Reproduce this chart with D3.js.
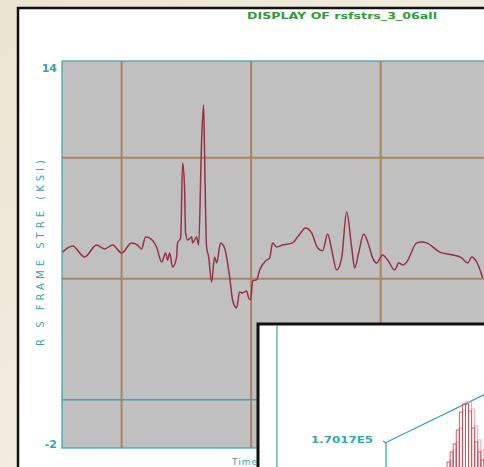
<!DOCTYPE html>
<html>
<head>
<meta charset="utf-8">
<script src="https://cdn.jsdelivr.net/npm/d3@7"></script>
<style>
  html, body { margin: 0; padding: 0; overflow: hidden; background: #f4f0e6; }
  svg { display: block; }
</style>
</head>
<body>
<script>
// stress trace (time in sec, stress in ksi)
var timeSec = [0.544, 0.622, 0.714, 0.807, 0.869, 0.931, 1.000, 1.077, 1.124, 1.154,
  1.185, 1.216, 1.270, 1.309, 1.340, 1.355, 1.371, 1.394, 1.425, 1.432,
  1.456, 1.471, 1.486, 1.494, 1.510, 1.541, 1.548, 1.579, 1.595, 1.618,
  1.633, 1.641, 1.656, 1.672, 1.695, 1.718, 1.734, 1.764, 1.795, 1.834,
  1.857, 1.888, 1.911, 1.934, 1.965, 1.981, 1.996, 2.012, 2.042, 2.066,
  2.120, 2.143, 2.166, 2.197, 2.243, 2.320, 2.359, 2.421, 2.467, 2.514,
  2.552, 2.591, 2.622, 2.660, 2.699, 2.737, 2.776, 2.799, 2.830, 2.869,
  2.900, 2.938, 2.969, 3.015, 3.054, 3.108, 3.139, 3.170, 3.201, 3.278,
  3.317, 3.355, 3.456, 3.556, 3.625, 3.672, 3.703, 3.741, 3.788];
var stressKsi = [6.10, 6.35, 5.90, 6.39, 6.23, 6.39, 6.06, 6.48, 6.39, 6.23,
  6.72, 6.68, 6.31, 5.69, 6.06, 5.77, 6.06, 5.48, 5.90, 6.48,
  6.68, 9.78, 8.79, 6.89, 6.60, 6.72, 6.48, 6.72, 6.39, 10.73,
  12.18, 10.03, 6.31, 5.90, 4.86, 5.90, 5.65, 6.48, 6.27, 5.07,
  4.12, 3.79, 4.45, 4.41, 4.49, 4.20, 4.12, 4.91, 4.95, 5.36,
  5.77, 5.86, 6.48, 6.31, 6.39, 6.48, 6.72, 7.10, 6.89, 6.27,
  6.15, 6.85, 6.19, 5.36, 5.86, 7.76, 6.31, 5.44, 6.06, 6.85,
  6.52, 5.86, 5.65, 5.98, 5.77, 5.36, 5.65, 5.57, 5.69, 6.48,
  6.52, 6.48, 6.10, 5.98, 5.86, 5.65, 5.90, 5.69, 5.03];

var yTicks = [-2, 14];
var yGrid = [5, 10];
var xGrid = [1, 2, 3];

// inset histogram (counts per bin)
var histBins = [0, 1, 2, 3, 4, 5, 6, 7, 8, 9, 10, 11];
var histCounts = [18, 28, 36, 50, 68, 76, 76, 69, 52, 38, 28, 20];
var insetLabel = "1.7017E5";

var W = 484, H = 467;
var teal = "#3aa3aa", brown = "#a98463", lineCol = "#963244";
var font = "DejaVu Sans, Liberation Sans, Arial, sans-serif";

var svg = d3.select("body").append("svg")
  .attr("width", W).attr("height", H);

var defs = svg.append("defs");
var grad = defs.append("linearGradient").attr("id", "bg")
  .attr("x1", "0").attr("y1", "0").attr("x2", "1").attr("y2", "1");
grad.append("stop").attr("offset", "0").attr("stop-color", "#ebe4d2");
grad.append("stop").attr("offset", "1").attr("stop-color", "#f7f4ec");
svg.append("rect").attr("width", W).attr("height", H).attr("fill", "url(#bg)");

// page frame
svg.append("rect")
  .attr("x", 18).attr("y", 8).attr("width", 500).attr("height", 500)
  .attr("fill", "#fff").attr("stroke", "#111").attr("stroke-width", 2.5);

svg.append("text")
  .attr("x", 247).attr("y", 19)
  .attr("textLength", 190).attr("lengthAdjust", "spacingAndGlyphs")
  .style("font-family", font)
  .style("font-weight", "bold").style("font-size", "9.5px")
  .attr("fill", "#2f9a35")
  .text("DISPLAY OF rsfstrs_3_06all");

var plot = {left: 62, right: 540, top: 61, bottom: 448};

var x = d3.scaleLinear().domain([0.54, 4.23]).range([plot.left, plot.right]);
var y = d3.scaleLinear().domain([-2, 14]).range([plot.bottom, plot.top]);

svg.append("rect")
  .attr("x", plot.left).attr("y", plot.top)
  .attr("width", plot.right - plot.left).attr("height", plot.bottom - plot.top)
  .attr("fill", "#c0c0c0").attr("stroke", teal).attr("stroke-width", 1.2);

svg.selectAll(".vgrid").data(xGrid).enter().append("line")
  .attr("class", "vgrid")
  .attr("x1", function(d){ return x(d); }).attr("x2", function(d){ return x(d); })
  .attr("y1", plot.top).attr("y2", plot.bottom)
  .attr("stroke", brown).attr("stroke-width", 2);

svg.selectAll(".hgrid").data(yGrid).enter().append("line")
  .attr("class", "hgrid")
  .attr("x1", plot.left).attr("x2", plot.right)
  .attr("y1", function(d){ return y(d); }).attr("y2", function(d){ return y(d); })
  .attr("stroke", brown).attr("stroke-width", 2);

// zero line
svg.append("line")
  .attr("x1", plot.left).attr("x2", plot.right)
  .attr("y1", y(0)).attr("y2", y(0))
  .attr("stroke", teal).attr("stroke-width", 1.5);

svg.selectAll(".ytick").data(yTicks).enter().append("text")
  .attr("class", "ytick")
  .attr("x", 57)
  .attr("y", function(d){ return d == 14 ? y(d) + 11 : y(d) - 0; })
  .attr("text-anchor", "end")
  .style("font-family", font)
  .style("font-weight", "bold").style("font-size", "11px")
  .attr("fill", teal)
  .text(function(d){ return d; });

svg.append("text")
  .attr("transform", "translate(44,253) rotate(-90)")
  .attr("text-anchor", "middle")
  .attr("textLength", 186).attr("lengthAdjust", "spacing")
  .style("font-family", font)
  .style("font-size", "10px")
  .attr("fill", teal)
  .text("R S FRAME STRE (KSI)");

svg.append("text")
  .attr("x", 232).attr("y", 465)
  .style("font-family", font)
  .style("font-size", "9px").style("letter-spacing", "1px")
  .attr("fill", teal)
  .text("Time (SEC)");

var line = d3.line()
  .x(function(d){ return x(d[0]); })
  .y(function(d){ return y(d[1]); })
  .curve(d3.curveMonotoneX);

svg.append("path")
  .datum(d3.zip(timeSec, stressKsi))
  .attr("d", line)
  .attr("fill", "none")
  .attr("stroke", lineCol).attr("stroke-width", 1.5)
  .attr("stroke-linejoin", "round");

// inset window
var inset = svg.append("g");
inset.append("rect")
  .attr("x", 258).attr("y", 324).attr("width", 300).attr("height", 200)
  .attr("fill", "#fff").attr("stroke", "#111").attr("stroke-width", 3);
inset.append("line")
  .attr("x1", 277).attr("x2", 277).attr("y1", 326).attr("y2", H)
  .attr("stroke", teal).attr("stroke-width", 1.2);

// 3d histogram axes
inset.append("line")
  .attr("x1", 385).attr("y1", 443).attr("x2", 500).attr("y2", 387)
  .attr("stroke", teal).attr("stroke-width", 1.2);
inset.append("line")
  .attr("x1", 386).attr("y1", 443).attr("x2", 386).attr("y2", H)
  .attr("stroke", teal).attr("stroke-width", 1.2);
inset.append("line")
  .attr("x1", 383).attr("y1", 441).attr("x2", 386).attr("y2", 443)
  .attr("stroke", teal).attr("stroke-width", 1.2);

inset.append("text")
  .attr("x", 311).attr("y", 443)
  .attr("textLength", 62).attr("lengthAdjust", "spacingAndGlyphs")
  .style("font-family", font)
  .style("font-weight", "bold").style("font-size", "9.5px")
  .attr("fill", teal)
  .text(insetLabel);

var hx = d3.scaleBand().domain(histBins).range([447, 484]).padding(0);
var hy = d3.scaleLinear().domain([0, 76]).range([480, 404]);

var rows = [{dx: 3, dy: -2, col: "#e3a0aa"}, {dx: 0, dy: 0, col: "#c9505f"}];
rows.forEach(function(r){
  inset.selectAll(null).data(histBins).enter().append("rect")
    .attr("x", function(d){ return hx(d) + r.dx; })
    .attr("y", function(d, i){ return hy(histCounts[i]) + r.dy; })
    .attr("width", hx.bandwidth())
    .attr("height", function(d, i){ return hy(0) - hy(histCounts[i]); })
    .attr("fill", "none")
    .attr("stroke", r.col).attr("stroke-width", 0.9);
});
</script>
</body>
</html>
